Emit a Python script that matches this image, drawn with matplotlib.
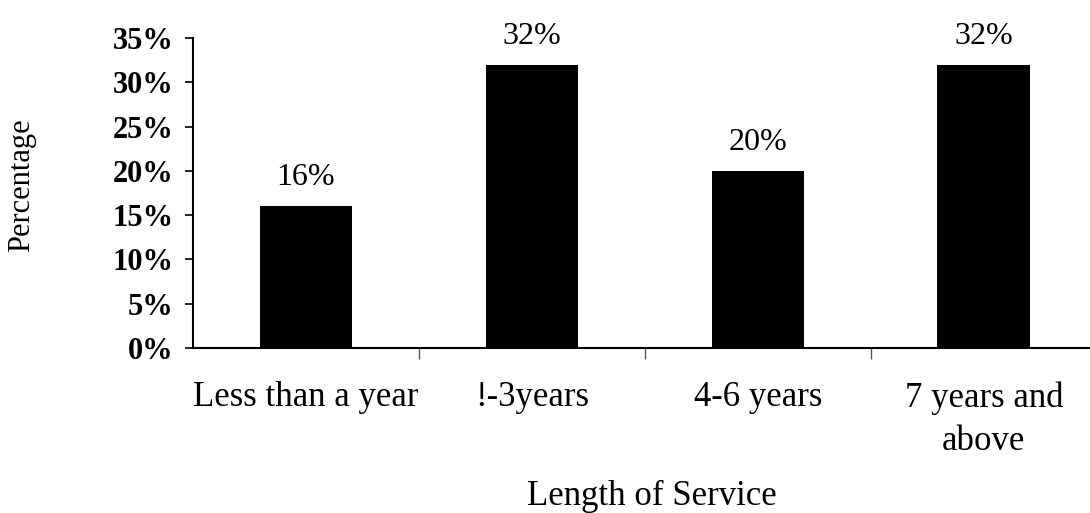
import matplotlib
matplotlib.use("Agg")
import matplotlib.pyplot as plt
from matplotlib.ticker import FixedLocator, FuncFormatter

plt.rcParams["font.family"] = ["Liberation Serif", "DejaVu Serif"]

categories = ["Less than a year", "!-3years", "4-6 years", "7 years and\nabove"]
percentages = [16, 32, 20, 32]
y_ticks = [0, 5, 10, 15, 20, 25, 30, 35]

fig = plt.figure(figsize=(10.9, 5.13), dpi=100)
ax = fig.add_axes([193 / 1090, 165 / 513, 897 / 1090, 310 / 513])

x = list(range(len(categories)))
bars = ax.bar(x, percentages, width=0.41, color="black", zorder=2)

for xi, v in zip(x, percentages):
    ax.annotate(f"{v}%", xy=(xi, v), xytext=(0, 10), textcoords="offset points",
                ha="center", va="bottom", fontsize=23, color="black")

ax.set_xlim(-0.5, 3.47)
ax.set_ylim(0, 35)

ax.yaxis.set_major_locator(FixedLocator(y_ticks))
ax.yaxis.set_major_formatter(FuncFormatter(lambda v, p: f"{int(v)}%"))
ax.tick_params(axis="y", direction="out", length=6, width=1.2, pad=8,
               labelsize=22)
for lbl in ax.get_yticklabels():
    lbl.set_fontweight("bold")

ax.set_xticks(x)
ax.set_xticklabels(categories, fontsize=25, linespacing=1.4)
ax.tick_params(axis="x", which="major", length=0, pad=24)
ax.set_xticks([0.5, 1.5, 2.5], minor=True)
ax.tick_params(axis="x", which="minor", direction="out", length=8, width=1.0,
               color="#555555")

for side in ("top", "right"):
    ax.spines[side].set_visible(False)
ax.spines["left"].set_linewidth(1.5)
ax.spines["bottom"].set_linewidth(1.5)

fig.text(652 / 1090, 1 - 505 / 513, "Length of Service", ha="center",
         va="baseline", fontsize=25)
fig.text(22 / 1090, 1 - 185 / 513, "Percentage", ha="center", va="center",
         rotation=90, fontsize=22)

fig.savefig("out.png", dpi=100)
